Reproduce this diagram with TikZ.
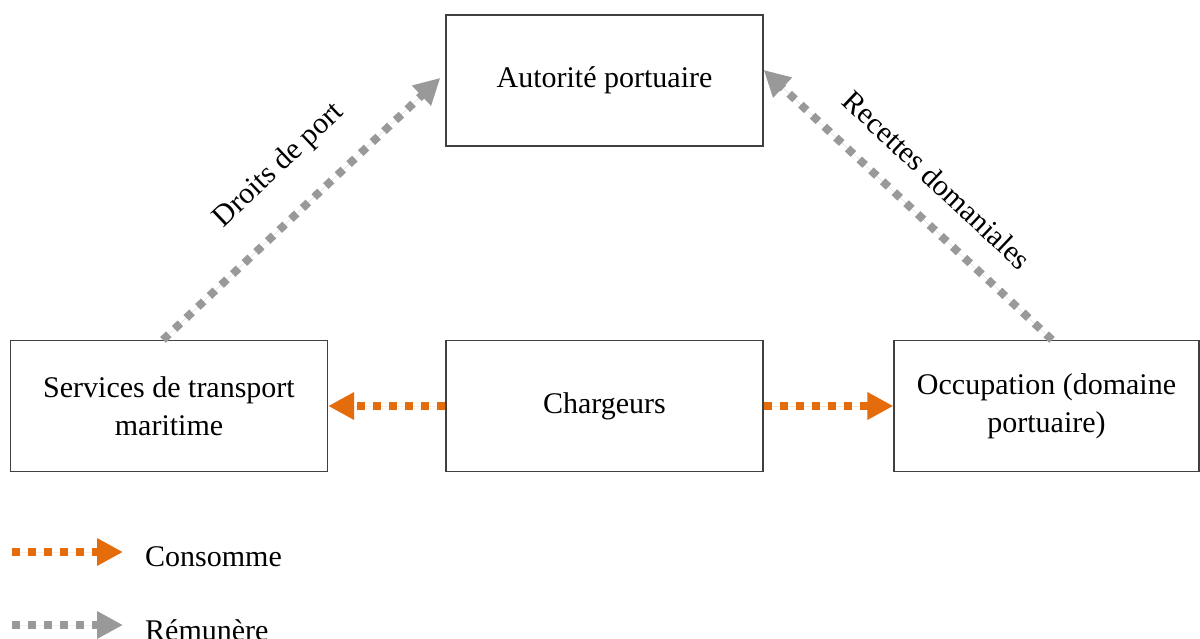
\documentclass[tikz,border=0pt]{standalone}
\usepackage{fontspec}
\setmainfont{Liberation Serif}
\usetikzlibrary{arrows.meta,calc}
\definecolor{cons}{HTML}{E46C0A}
\definecolor{remu}{HTML}{999999}
\definecolor{edge}{HTML}{404040}
\tikzset{
  box/.style={draw=edge, line width=1.3pt, minimum width=317pt, minimum height=131pt, align=center, inner sep=0pt, font=\fontsize{30}{38}\selectfont},
  lbl/.style={inner sep=0pt, font=\fontsize{30}{38}\selectfont},
  flow/.style={line width=8pt, dash pattern=on 8pt off 8pt, -{Triangle[length=26pt,width=26pt]}},
  consarrow/.style={flow, draw=cons, fill=cons},
  remuarrow/.style={flow, draw=remu, fill=remu}
}
\begin{document}
\begin{tikzpicture}[x=1pt,y=-1pt]
\useasboundingbox (0,0) rectangle (1200,639);
\node[box] (aut) at (604.5,80.5) {Autorité portuaire};
\node[box] (serv) at (169,406) {Services de transport\\maritime};
\node[box] (chg) at (604.5,406) {Chargeurs};
\node[box, minimum width=305pt] (occ) at (1046.5,406) {Occupation (domaine\\portuaire)};

\draw[consarrow] (chg.west) -- (serv.east);
\draw[consarrow] (chg.east) -- (occ.west);

\coordinate (s1) at ($(serv.north west)!0.481!(serv.north east)$);
\coordinate (t1) at ($(aut.north west)!0.48!(aut.south west)+(-5,0)$);
\draw[remuarrow] (s1) -- (t1);
\coordinate (s2) at ($(occ.north west)!0.518!(occ.north east)$);
\coordinate (t2) at ($(aut.north east)!0.42!(aut.south east)$);
\draw[remuarrow] (s2) -- (t2);

\node[lbl, rotate=43.5] (ldp) at (279,166) {Droits de port};
\node[lbl, rotate=-43.3] (lrd) at (937,180) {Recettes domaniales};

\coordinate (c0) at (12,552);
\coordinate (c1) at (123,552);
\draw[consarrow] (c0) -- (c1);
\node[lbl, anchor=base west] (lc) at (145,566) {Consomme};
\coordinate (r0) at (12,625);
\coordinate (r1) at (123,625);
\draw[remuarrow] (r0) -- (r1);
\node[lbl, anchor=base west] (lr) at (145,640) {Rémunère};
\end{tikzpicture}
\end{document}
